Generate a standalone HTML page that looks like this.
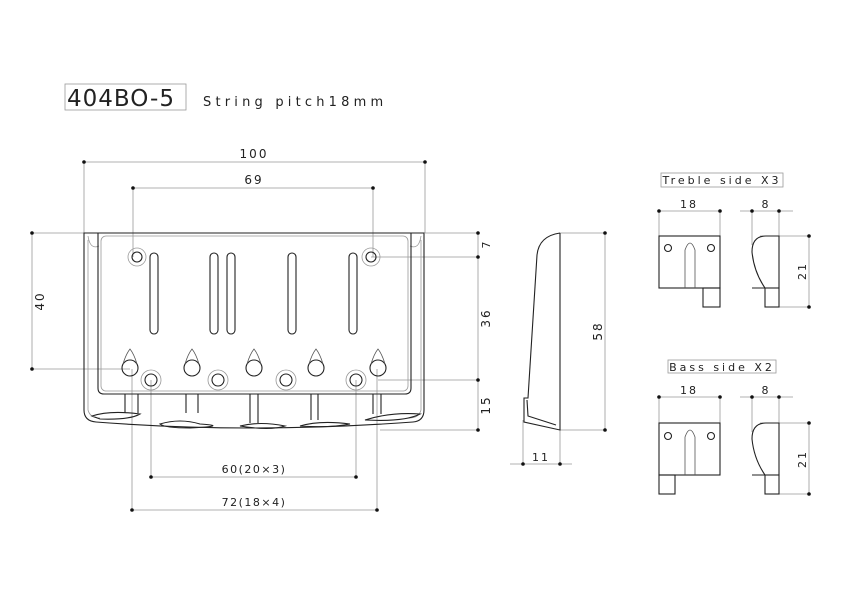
<!DOCTYPE html>
<html><head><meta charset="utf-8"><style>
html,body{margin:0;padding:0;background:#fff;width:842px;height:596px;overflow:hidden}
svg{display:block}
text{font-family:"DejaVu Sans","Liberation Sans",sans-serif;fill:#222}
</style></head><body>
<svg width="842" height="596" viewBox="0 0 842 596" xmlns="http://www.w3.org/2000/svg">
<g fill="none" stroke="#999" stroke-width="0.8">
<rect x="65" y="84" width="121" height="26"/>
<line x1="84" y1="162" x2="425" y2="162"/>
<line x1="84" y1="162" x2="84" y2="233"/>
<line x1="425" y1="162" x2="425" y2="233"/>
<line x1="133" y1="188" x2="373" y2="188"/>
<line x1="133" y1="188" x2="133" y2="257"/>
<line x1="373" y1="188" x2="373" y2="257"/>
<line x1="32" y1="233" x2="32" y2="369"/>
<line x1="32" y1="233" x2="84" y2="233"/>
<line x1="32" y1="369" x2="130" y2="369"/>
<line x1="478" y1="233" x2="478" y2="430"/>
<line x1="425" y1="233" x2="478" y2="233"/>
<line x1="371" y1="257" x2="478" y2="257"/>
<line x1="378" y1="380" x2="478" y2="380"/>
<line x1="380" y1="430" x2="478" y2="430"/>
<line x1="151" y1="380" x2="151" y2="477"/>
<line x1="356" y1="380" x2="356" y2="477"/>
<line x1="151" y1="477" x2="356" y2="477"/>
<line x1="132" y1="369" x2="132" y2="510"/>
<line x1="377" y1="369" x2="377" y2="510"/>
<line x1="132" y1="510" x2="377" y2="510"/>
<line x1="560" y1="233" x2="605" y2="233"/>
<line x1="560" y1="430" x2="605" y2="430"/>
<line x1="605" y1="233" x2="605" y2="430"/>
<line x1="510" y1="464" x2="572" y2="464"/>
<line x1="523" y1="420" x2="523" y2="464"/>
<line x1="560" y1="430" x2="560" y2="464"/>
<rect x="661" y="173" width="122" height="14"/>
<rect x="668" y="360" width="108" height="13"/>
<line x1="659" y1="211" x2="720" y2="211"/><line x1="659" y1="211" x2="659" y2="236"/><line x1="720" y1="211" x2="720" y2="236"/>
<line x1="740" y1="211" x2="793" y2="211"/><line x1="752" y1="211" x2="752" y2="245"/><line x1="779" y1="211" x2="779" y2="236"/>
<line x1="760" y1="236" x2="809" y2="236"/><line x1="779" y1="307" x2="809" y2="307"/><line x1="809" y1="236" x2="809" y2="307"/>
<line x1="659" y1="397" x2="720" y2="397"/><line x1="659" y1="397" x2="659" y2="423"/><line x1="720" y1="397" x2="720" y2="423"/>
<line x1="740" y1="397" x2="793" y2="397"/><line x1="752" y1="397" x2="752" y2="432"/><line x1="779" y1="397" x2="779" y2="423"/>
<line x1="760" y1="423" x2="809" y2="423"/><line x1="779" y1="494" x2="809" y2="494"/><line x1="809" y1="423" x2="809" y2="494"/>
<circle cx="137" cy="257" r="9"/><circle cx="371" cy="257" r="9"/>
<circle cx="151" cy="380" r="10"/><circle cx="218" cy="380" r="10"/><circle cx="286" cy="380" r="10"/><circle cx="356" cy="380" r="10"/>
<rect x="101" y="236" width="307" height="155" rx="5"/>
<path d="M88 236 Q90 250 99 246 M421 236 Q419 250 410 246"/>
<path d="M88 240 V410 Q90 418 100 418 M421 240 V410 Q419 418 409 418"/>
</g>
<g fill="#111">
<circle cx="84" cy="162" r="1.8"/><circle cx="425" cy="162" r="1.8"/>
<circle cx="133" cy="188" r="1.8"/><circle cx="373" cy="188" r="1.8"/>
<circle cx="32" cy="233" r="1.8"/><circle cx="32" cy="369" r="1.8"/>
<circle cx="478" cy="233" r="1.8"/><circle cx="478" cy="257" r="1.8"/><circle cx="478" cy="380" r="1.8"/><circle cx="478" cy="430" r="1.8"/>
<circle cx="151" cy="477" r="1.8"/><circle cx="356" cy="477" r="1.8"/>
<circle cx="132" cy="510" r="1.8"/><circle cx="377" cy="510" r="1.8"/>
<circle cx="605" cy="233" r="1.8"/><circle cx="605" cy="430" r="1.8"/>
<circle cx="523" cy="464" r="1.8"/><circle cx="560" cy="464" r="1.8"/>
<circle cx="659" cy="211" r="1.8"/><circle cx="720" cy="211" r="1.8"/><circle cx="752" cy="211" r="1.8"/><circle cx="779" cy="211" r="1.8"/>
<circle cx="809" cy="236" r="1.8"/><circle cx="809" cy="307" r="1.8"/>
<circle cx="659" cy="397" r="1.8"/><circle cx="720" cy="397" r="1.8"/><circle cx="752" cy="397" r="1.8"/><circle cx="779" cy="397" r="1.8"/>
<circle cx="809" cy="423" r="1.8"/><circle cx="809" cy="494" r="1.8"/>
</g>
<g fill="none" stroke="#222" stroke-width="1.1">
<path d="M84 233 V410 Q84 421 96 422 Q250 434 413 422 Q424 421 424 410 V233 Z"/>
<path d="M98 233 V388 Q98 394 104 394 H405 Q411 394 411 388 V233"/>
<circle cx="137" cy="257" r="5"/><circle cx="371" cy="257" r="5"/>
<rect x="150" y="253" width="8" height="81" rx="4"/>
<rect x="210" y="253" width="8" height="81" rx="4"/>
<rect x="227" y="253" width="8" height="81" rx="4"/>
<rect x="288" y="253" width="8" height="81" rx="4"/>
<rect x="349" y="253" width="8" height="81" rx="4"/>
<circle cx="130" cy="368" r="8"/><circle cx="192" cy="368" r="8"/><circle cx="254" cy="368" r="8"/><circle cx="316" cy="368" r="8"/><circle cx="378" cy="368" r="8"/>
<circle cx="151" cy="380" r="6"/><circle cx="218" cy="380" r="6"/><circle cx="286" cy="380" r="6"/><circle cx="356" cy="380" r="6"/>
<path d="M125 394 V413 M138 394 V413 M186 394 V413 M198 394 V413 M250 394 V423 M258 394 V423 M311 394 V420 M318 394 V420 M373 394 V414 M381 394 V414"/>
<path d="M92 416 Q110 410 140 414 Q130 420 100 419Z M160 424 Q180 418 200 424 Q230 426 190 428 Q165 428 160 424Z M240 426 Q260 421 285 426 Q270 431 240 426Z M300 426 Q320 420 350 424 Q330 428 300 426Z M365 420 Q390 412 420 414 Q405 422 365 420Z"/>
<path d="M560 233 V430 L524 422 V398 L528 398 L537 255 Q539 236 560 233"/>
<path d="M527 400 L528 416 L556 425"/>
<rect x="659" y="236" width="61" height="52"/>
<rect x="703" y="288" width="17" height="19"/>
<circle cx="668" cy="248" r="3.5"/><circle cx="711" cy="248" r="3.5"/>
<path d="M752 288 H779 V236 H766 Q752 236 752 252 Q754 272 765 288"/>
<rect x="765" y="288" width="14" height="19"/>
<rect x="659" y="423" width="61" height="52"/>
<rect x="659" y="475" width="16" height="19"/>
<circle cx="668" cy="436" r="3.5"/><circle cx="711" cy="436" r="3.5"/>
<path d="M752 475 H779 V423 H766 Q752 423 752 439 Q754 459 765 475"/>
<rect x="765" y="475" width="14" height="19"/>
</g>
<g fill="none" stroke="#555" stroke-width="0.8">
<path d="M123 364 Q126 354 130 349 Q134 354 137 364 M185 364 Q188 354 192 349 Q196 354 199 364 M247 364 Q250 354 254 349 Q258 354 261 364 M309 364 Q312 354 316 349 Q320 354 323 364 M371 364 Q374 354 378 349 Q382 354 385 364"/>
<path d="M685 288 V250 Q690 236 695 250 V288 M685 475 V437 Q690 423 695 437 V475"/>
</g>
<text x="67" y="106" font-size="23" letter-spacing="1">404BO-5</text>
<text x="203" y="106" font-size="13" letter-spacing="4.2">String pitch18mm</text>
<text x="254" y="158" font-size="12" text-anchor="middle" letter-spacing="2">100</text>
<text x="254" y="184" font-size="12" text-anchor="middle" letter-spacing="2">69</text>
<text x="254" y="473" font-size="11" text-anchor="middle" letter-spacing="1.5">60(20×3)</text>
<text x="254" y="506" font-size="11" text-anchor="middle" letter-spacing="1.5">72(18×4)</text>
<text x="541" y="461" font-size="11" text-anchor="middle" letter-spacing="2">11</text>
<text transform="translate(44,301) rotate(-90)" font-size="12" text-anchor="middle" letter-spacing="2">40</text>
<text transform="translate(490,245) rotate(-90)" font-size="11" text-anchor="middle">7</text>
<text transform="translate(490,318) rotate(-90)" font-size="12" text-anchor="middle" letter-spacing="2">36</text>
<text transform="translate(490,405) rotate(-90)" font-size="12" text-anchor="middle" letter-spacing="2">15</text>
<text transform="translate(602,331) rotate(-90)" font-size="12" text-anchor="middle" letter-spacing="2">58</text>
<text x="722" y="184" font-size="11" text-anchor="middle" letter-spacing="3">Treble side X3</text>
<text x="722" y="371" font-size="11" text-anchor="middle" letter-spacing="3">Bass side X2</text>
<text x="689" y="208" font-size="11" text-anchor="middle" letter-spacing="2">18</text>
<text x="765" y="208" font-size="11" text-anchor="middle">8</text>
<text transform="translate(806,271) rotate(-90)" font-size="11" text-anchor="middle" letter-spacing="2">21</text>
<text x="689" y="394" font-size="11" text-anchor="middle" letter-spacing="2">18</text>
<text x="765" y="394" font-size="11" text-anchor="middle">8</text>
<text transform="translate(806,459) rotate(-90)" font-size="11" text-anchor="middle" letter-spacing="2">21</text>
</svg>
</body></html>
